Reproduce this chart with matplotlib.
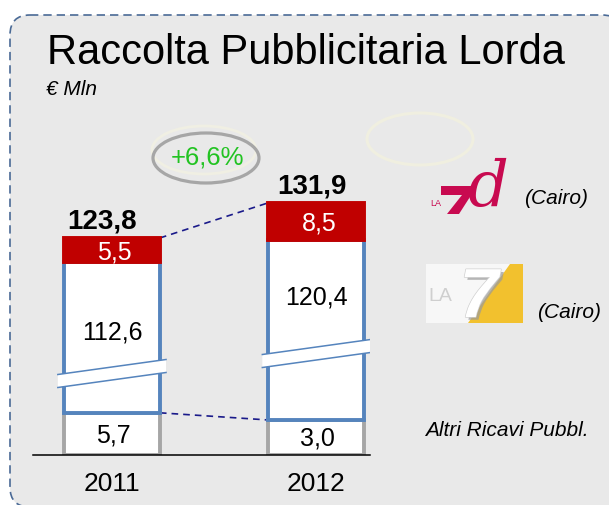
import numpy as np
import matplotlib
matplotlib.use("Agg")
import matplotlib.pyplot as plt
from matplotlib.patches import FancyBboxPatch, Ellipse, Polygon, Rectangle
from matplotlib.ticker import NullLocator
import matplotlib.patheffects as pe

# ---------------- data ----------------
years = ["2011", "2012"]
altri = [5.7, 3.0]          # Altri Ricavi Pubbl.
la7 = [112.6, 120.4]        # LA7 (Cairo)
la7d = [5.5, 8.5]           # LA7d (Cairo)
totals = [123.8, 131.9]
growth = "+6,6%"
title = "Raccolta Pubblicitaria Lorda"
unit = "€ Mln"
legend_labels = ["(Cairo)", "(Cairo)", "Altri Ricavi Pubbl."]


def fmt(v):
    return f"{v:.1f}".replace(".", ",")


# ------------- broken-axis scale (value -> px above baseline) -------------
VAL_KNOTS = [0, 3, 6, 100, 200]
PX_KNOTS = [0, 35, 43, 113.5, 548.5]


def fwd(v):
    return np.interp(v, VAL_KNOTS, PX_KNOTS)


def inv(p):
    return np.interp(p, PX_KNOTS, VAL_KNOTS)


plt.rcParams['font.family'] = ['Liberation Sans', 'DejaVu Sans']

W, H = 609, 505
fig = plt.figure(figsize=(W / 100, H / 100), dpi=100)
fig.patch.set_facecolor("white")

# background / decoration axes in pixel coordinates
bg = fig.add_axes([0, 0, 1, 1], zorder=0)
bg.set_xlim(0, W)
bg.set_ylim(H, 0)
bg.axis("off")
bg.add_patch(FancyBboxPatch((10, 15), 612, 492,
                            boxstyle="round,pad=0,rounding_size=20",
                            fc="#e9e9e9", ec="#4a6a96", lw=1.2,
                            ls=(0, (5, 3))))

bg.text(47, 63.5, title, fontsize=30, va="baseline", ha="left", color="black")
bg.text(46, 95, unit, fontsize=15, style="italic", va="baseline", ha="left")

# growth ellipse
bg.add_patch(Ellipse((204, 150), 104, 48, fc="none", ec="#f0efe3", lw=2))
bg.add_patch(Ellipse((206, 158), 106, 50, fc="none", ec="#a6a6a6", lw=2.3))
bg.text(208, 158, growth, fontsize=18.5, color="#22c322", ha="center",
        va="center")
# faint ellipse top right
bg.add_patch(Ellipse((420, 139), 106, 52, fc="none", ec="#f0efe0", lw=2.2))

# LA7d logo (approximation)
crim = "#c80a50"
bg.text(430, 205.5, "LA", fontsize=6.5, color=crim, ha="left", va="baseline")
bg.add_patch(Polygon([(441, 186), (477, 186), (459, 214), (447, 214),
                      (462, 195), (441, 195)],
                     closed=True, fc=crim, ec="none"))
bg.text(468, 206, "d", fontsize=46, family="DejaVu Serif", style="italic",
        color=crim, ha="left", va="baseline")
bg.text(524, 199, legend_labels[0], fontsize=15, style="italic",
        ha="left", va="center")

# LA7 logo (approximation)
bg.add_patch(Rectangle((426, 264), 97, 59, fc="#f7f7f7", ec="none"))
bg.add_patch(Polygon([(510, 264), (523, 264), (523, 323), (468, 323)],
                     closed=True, fc="#f2c12e", ec="none"))
bg.text(428, 301, "LA", fontsize=14, color="#cfcfcf", ha="left",
        va="baseline")
t7 = bg.text(479, 317, "7", fontsize=50, weight="bold", style="italic",
             color="white", ha="center", va="baseline")
t7.set_path_effects([pe.withSimplePatchShadow(offset=(2, -2),
                                              shadow_rgbFace="#9a9a9a",
                                              alpha=0.7),
                     pe.withStroke(linewidth=1, foreground="#d0d0d0")])
bg.text(537, 313, legend_labels[1], fontsize=15, style="italic",
        ha="left", va="center")
bg.text(425, 430, legend_labels[2], fontsize=15, style="italic",
        ha="left", va="center")

# ---------------- bar axes ----------------
ax = fig.add_axes([33 / W, 50 / H, (370 - 33) / W, 330 / H], zorder=2)
ax.set_yscale("function", functions=(fwd, inv))
ax.patch.set_alpha(0)
for s in ["top", "right", "left"]:
    ax.spines[s].set_visible(False)
ax.spines["bottom"].set_color("black")
ax.spines["bottom"].set_linewidth(1.1)

x = np.arange(len(years))
bw = 0.469
blue = "#5584bd"
gray = "#a6a6a6"
red = "#c00000"
elw = 2.8

ax.bar(x, altri, bw, color="white", edgecolor=gray, lw=elw, zorder=2)
ax.bar(x, la7, bw, bottom=altri, color="white", edgecolor=blue, lw=elw,
       zorder=2)
bottom_red = np.add(altri, la7)
ax.bar(x, la7d, bw, bottom=bottom_red, color=red, edgecolor=red, lw=elw,
       zorder=2)

# break marks (positions in px above baseline)
break_px = [81.5, 101.5]
half_slope, half_thick = 7.5, 6.5
xe = bw / 2 + 0.03
for i, c in enumerate(break_px):
    xl, xr = i - xe, i + xe
    top_l, top_r = c - half_slope + half_thick, c + half_slope + half_thick
    bot_l, bot_r = c - half_slope - half_thick, c + half_slope - half_thick
    ax.add_patch(Polygon([(xl, inv(top_l)), (xr, inv(top_r)),
                          (xr, inv(bot_r)), (xl, inv(bot_l))],
                         closed=True, fc="white", ec="none", zorder=3))
    ax.plot([xl, xr], [inv(top_l), inv(top_r)], color=blue, lw=1.1, zorder=4)
    ax.plot([xl, xr], [inv(bot_l), inv(bot_r)], color=blue, lw=1.1, zorder=4)

# connector dashed lines
navy = "#1a1a8a"
ax.plot([0 + bw / 2, 1 - bw / 2], [totals[0], totals[1]], color=navy,
        lw=1.2, ls=(0, (4, 3)), zorder=1)
ax.plot([0 + bw / 2, 1 - bw / 2], [altri[0], altri[1]], color=navy,
        lw=1.2, ls=(0, (4, 3)), zorder=1)

# labels
tot_dx = [-7, -3]
for i in range(len(years)):
    ax.annotate(fmt(totals[i]), (i, totals[i]), xytext=(tot_dx[i], 7),
                textcoords="offset points", ha="center", va="baseline",
                fontsize=20, weight="bold", zorder=5)
    # red segment
    ym = inv((fwd(bottom_red[i]) + fwd(totals[i])) / 2)
    ax.annotate(fmt(la7d[i]), (i, ym), xytext=(2, -1.5),
                textcoords="offset points", ha="center", va="center",
                fontsize=18, color="white", zorder=5)
    # gray segment
    yg = inv(fwd(altri[i]) / 2)
    ax.annotate(fmt(altri[i]), (i, yg), xytext=(1, -1),
                textcoords="offset points", ha="center", va="center",
                fontsize=18, zorder=5)

blue_frac = [0.53, 0.68]
for i in range(len(years)):
    lo, hi = fwd(altri[i]), fwd(bottom_red[i])
    yb = inv(lo + blue_frac[i] * (hi - lo))
    ax.text(i, yb, fmt(la7[i]), ha="center", va="center", fontsize=18,
            zorder=5)

ax.set_xticks(x, years, fontsize=19)
ax.tick_params(axis="x", length=0, pad=12)
ax.set_yticks([])
ax.yaxis.set_minor_locator(NullLocator())
ax.set_xlim(-0.386, 1.262)
ax.set_ylim(0, inv(330))

fig.savefig("out.png", dpi=100)
